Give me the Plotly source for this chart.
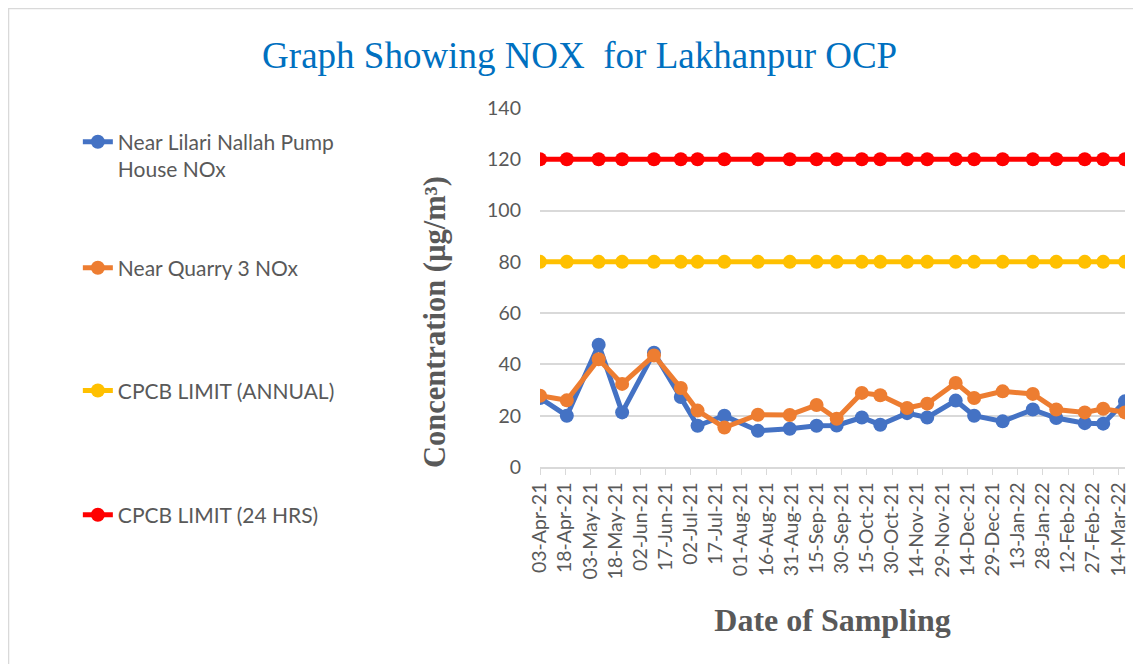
import plotly.graph_objects as go

# ---- data ----
dates = ["2021-04-03", "2021-04-19", "2021-05-08", "2021-05-22", "2021-06-10", "2021-06-26",
         "2021-07-06", "2021-07-22", "2021-08-11", "2021-08-30", "2021-09-15", "2021-09-27",
         "2021-10-12", "2021-10-23", "2021-11-08", "2021-11-20", "2021-12-07", "2021-12-18",
         "2022-01-04", "2022-01-22", "2022-02-05", "2022-02-22", "2022-03-05", "2022-03-18"]
lilari = [26.9, 20.0, 47.7, 21.3, 44.6, 27.3, 16.1, 20.0, 14.1, 14.9, 16.1, 16.2,
          19.3, 16.5, 21.0, 19.3, 25.9, 20.0, 17.8, 22.4, 19.1, 17.1, 16.9, 25.6]
quarry = [27.8, 26.0, 42.0, 32.4, 43.5, 30.8, 22.0, 15.4, 20.4, 20.3, 24.2, 18.8,
          28.9, 28.0, 23.0, 24.7, 32.8, 26.9, 29.5, 28.5, 22.4, 21.3, 22.7, 21.3]
limit_annual = [80] * len(dates)
limit_24h = [120] * len(dates)

names = ["Near Lilari Nallah Pump<br>House NOx", "Near Quarry 3 NOx",
         "CPCB LIMIT (ANNUAL)", "CPCB LIMIT (24 HRS)"]
series = [lilari, quarry, limit_annual, limit_24h]
colors = ["#4472C4", "#ED7D31", "#FFC000", "#FF0000"]
legend_ids = ["legend", "legend2", "legend3", "legend4"]

fig = go.Figure()
for nm, ys, c, lg in zip(names, series, colors, legend_ids):
    fig.add_trace(go.Scatter(
        x=dates, y=ys, name=nm, mode="lines+markers",
        line=dict(color=c, width=5),
        marker=dict(color=c, size=14),
        legend=lg,
    ))

grid = "#D9D9D9"
txt = "#595959"

# plot area (figure px): x 532..1117, y 100..459
leg_common = dict(xanchor="left", font=dict(family="Lato", size=21, color=txt),
                  bgcolor="rgba(0,0,0,0)", valign="top")
lx = -0.79
fig.update_layout(
    width=1141, height=664,
    paper_bgcolor="white", plot_bgcolor="white",
    margin=dict(l=532, r=24, t=100, b=205),
    title=dict(text="Graph Showing NOX  for Lakhanpur OCP",
               x=0.501, xanchor="center", y=0.929, yanchor="middle",
               font=dict(family="Liberation Serif", size=37, color="#0070C0")),
    showlegend=True,
    legend=dict(x=lx, y=0.962, yanchor="top", **leg_common),
    legend2=dict(x=lx, y=0.554, yanchor="middle", **leg_common),
    legend3=dict(x=lx, y=0.212, yanchor="middle", **leg_common),
    legend4=dict(x=lx, y=-0.134, yanchor="middle", **leg_common),
    shapes=[dict(type="rect", xref="paper", yref="paper",
                 x0=-0.9085, x1=1.039, y0=-0.568, y1=1.277,
                 line=dict(color=grid, width=1.5), layer="below")],
    annotations=[dict(text="<b>Concentration (µg/m³)</b>", textangle=-90,
                      xref="paper", yref="paper", x=-0.1795, y=0.404,
                      xanchor="center", yanchor="middle", showarrow=False,
                      font=dict(family="Liberation Serif", size=30.5, color=txt))],
)

fig.update_xaxes(
    type="date",
    range=["2021-04-03", "2022-03-18"],
    tick0="2021-04-03", dtick=15 * 86400000,
    tickformat="%d-%b-%y", tickangle=-90,
    tickfont=dict(family="Lato", size=19.5, color=txt),
    ticks="outside", ticklen=6, tickcolor=grid,
    showgrid=False, showline=True, linecolor=grid, linewidth=1.5,
    title=dict(text="<b>Date of Sampling</b>", standoff=30,
               font=dict(family="Liberation Serif", size=32, color=txt)),
)
fig.update_yaxes(
    range=[0, 140], dtick=20,
    tickfont=dict(family="Lato", size=19.5, color=txt),
    showgrid=True, gridcolor=grid, gridwidth=1.5,
    zeroline=False, showline=False, ticks="", ticklen=0,
    ticklabelstandoff=18,
)

fig.write_html("out.html")
